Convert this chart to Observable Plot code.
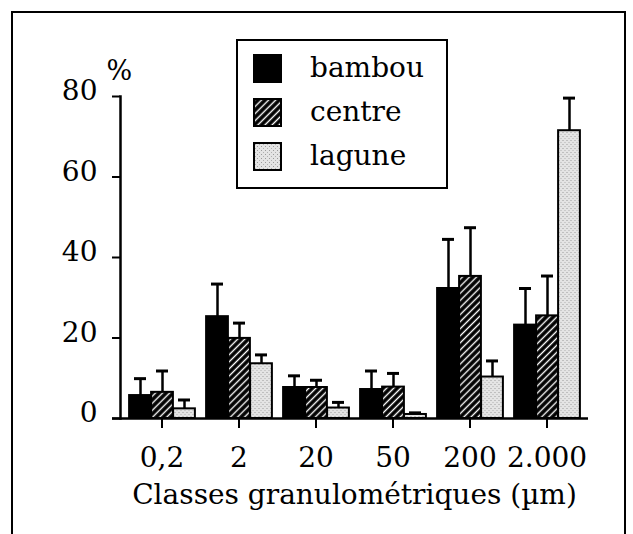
<!DOCTYPE html>
<html>
<head>
<meta charset="utf-8">
<script src="https://cdn.jsdelivr.net/npm/d3@7"></script>
<script src="https://cdn.jsdelivr.net/npm/@observablehq/plot@0.6"></script>
<style>
  html, body { margin: 0; padding: 0; background: #fff; }
  #wrap { position: relative; width: 633px; height: 534px; overflow: hidden; font-family: "DejaVu Serif", serif; }
  #border { position: absolute; left: 11px; top: 11px; width: 615px; height: 560px; border: 2px solid #000; box-sizing: border-box; }
  #legend { position: absolute; left: 236px; top: 39px; width: 212px; height: 150px; border: 2.5px solid #000; box-sizing: border-box; background: #fff; }
  .item { position: absolute; left: 15px; height: 30px; display: flex; align-items: center; }
  .item svg { width: 29px; height: 29px; }
  .item span { margin-left: 28px; font-size: 28px; color: #000; line-height: 30px; }
  #chart { position: absolute; left: 0; top: 0; }
</style>
</head>
<body>
<div id="wrap">
  <div id="border"></div>
  <div id="chart"></div>
  <div id="legend"></div>
</div>
<script>
const categories = ["0,2", "2", "20", "50", "200", "2.000"];
const series = ["bambou", "centre", "lagune"];
const bambou    = [5.7, 25.3, 7.7, 7.2, 32.3, 23.2];
const bambouErr = [9.9, 33.4, 10.6, 11.8, 44.5, 32.3];
const centre    = [6.5, 19.9, 7.7, 7.8, 35.3, 25.5];
const centreErr = [11.8, 23.7, 9.5, 11.2, 47.4, 35.4];
const lagune    = [2.4, 13.6, 2.6, 1.0, 10.3, 71.5];
const laguneErr = [4.6, 15.8, 4.0, 1.4, 14.3, 79.6];
const yTicks = [0, 20, 40, 60, 80];
const xLabel = "Classes granulométriques (µm)";
const yUnit = "%";

const values = {bambou, centre, lagune};
const errs = {bambou: bambouErr, centre: centreErr, lagune: laguneErr};
const fills = {bambou: "#000", centre: "url(#hatch)", lagune: "url(#dots)"};
const offsets = {bambou: -21.5, centre: 0.5, lagune: 22.5};

const rows = series.flatMap(s => categories.map((c, i) => ({cat: c, series: s, value: values[s][i], err: errs[s][i]})));

const marks = [];
for (const s of series) {
  const d = rows.filter(r => r.series === s);
  marks.push(Plot.barY(d, {x: "cat", y: "value", fill: fills[s], stroke: "#000", strokeWidth: 2, insetLeft: 27.6, insetRight: 27.6, dx: offsets[s]}));
}
for (const s of series) {
  const d = rows.filter(r => r.series === s);
  marks.push(Plot.ruleX(d, {x: "cat", y1: "value", y2: "err", stroke: "#000", strokeWidth: 2.5, dx: offsets[s]}));
  marks.push(Plot.tickY(d, {x: "cat", y: "err", stroke: "#000", strokeWidth: 3, insetLeft: 32.5, insetRight: 32.5, dx: offsets[s]}));
}

const chart = Plot.plot({
  width: 633,
  height: 534,
  marginLeft: 120,
  marginRight: 45,
  marginTop: 96,
  marginBottom: 116,
  style: {fontFamily: "DejaVu Serif, serif", fontSize: "28px", color: "#000", background: "transparent"},
  x: {domain: categories, range: [122, 585], padding: 0, label: null},
  y: {domain: [0, 80], label: null},
  marks: [
    ...marks,
    Plot.ruleY([0], {stroke: "#000", strokeWidth: 2.5, insetLeft: -8}),
    Plot.frame({anchor: "left", stroke: "#000", strokeWidth: 2.5}),
    Plot.axisY({ticks: yTicks, tickSize: 8, strokeWidth: 2, tickFormat: () => "", label: null}),
    Plot.axisY({ticks: yTicks, tickSize: 0, tickPadding: 23, dy: -5, label: null}),
    Plot.axisX({tickSize: 10, tickPadding: 19, strokeWidth: 2, label: null}),
    Plot.text([xLabel], {text: d => d, frameAnchor: "bottom", dy: 85, fontSize: 28}),
    Plot.text([yUnit], {text: d => d, frameAnchor: "top-left", dx: -14, dy: -36, fontSize: 27})
  ]
});

const defs = d3.select(chart).insert("defs", ":first-child");
const hatch = defs.append("pattern").attr("id", "hatch").attr("patternUnits", "userSpaceOnUse")
  .attr("width", 5).attr("height", 5).attr("patternTransform", "rotate(45)");
hatch.append("rect").attr("width", 5).attr("height", 5).attr("fill", "#000");
hatch.append("line").attr("x1", 2.5).attr("x2", 2.5).attr("y1", 0).attr("y2", 5).attr("stroke", "#fff").attr("stroke-width", 1.4);
const dots = defs.append("pattern").attr("id", "dots").attr("patternUnits", "userSpaceOnUse")
  .attr("width", 4).attr("height", 4);
dots.append("rect").attr("width", 4).attr("height", 4).attr("fill", "#e4e4e4");
dots.append("rect").attr("x", 0).attr("y", 0).attr("width", 1).attr("height", 1).attr("fill", "#9a9a9a");
dots.append("rect").attr("x", 2).attr("y", 2).attr("width", 1).attr("height", 1).attr("fill", "#b0b0b0");

document.getElementById("chart").appendChild(chart);

const legend = document.getElementById("legend");
const tops = [12, 56, 100];
series.forEach((s, i) => {
  const item = document.createElement("div");
  item.className = "item";
  item.style.top = tops[i] + "px";
  item.innerHTML = `<svg viewBox="0 0 29 29"><rect x="1" y="1" width="27" height="27" fill="${fills[s]}" stroke="#000" stroke-width="2"/></svg><span>${s}</span>`;
  legend.appendChild(item);
});
</script>
</body>
</html>
